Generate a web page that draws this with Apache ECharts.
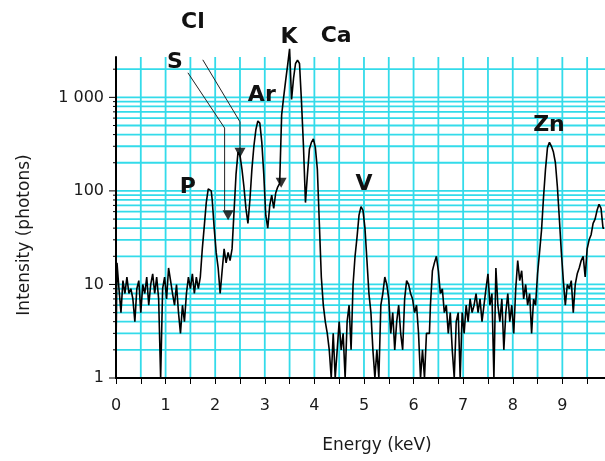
<!DOCTYPE html>
<html><head><meta charset="utf-8">
<script src="https://cdn.jsdelivr.net/npm/echarts@6/dist/echarts.min.js"></script>
<style>html,body{margin:0;padding:0;background:#fff}#c{width:605px;height:461px}</style>
</head><body><div id="c"></div>
<script>
// ---- data ----
const KEV_PER_CHANNEL = 0.04;
const counts = [
  2,17,9,5,11,8,12,8,9,7,
  4,9,11,5,10,8,12,6,10,13,
  8,12,7,1,9,12,7,15,11,8,
  6,10,5,3,6,4,8,12,9,13,
  8,12,9,12,24,42,75,105,100,80,
  40,22,15,8,14,24,17,22,18,24,
  60,150,260,240,170,110,65,45,80,170,
  300,450,560,530,330,150,55,40,70,90,
  65,95,110,120,650,1000,1500,2200,3300,950,
  1600,2300,2500,2300,900,300,75,150,280,330,
  360,290,170,45,12,6,4,3,2,1,
  3,1,2,4,2,3,1,4,6,2,
  10,20,32,55,68,62,40,18,8,5,
  2,1,2,1,6,8,12,10,7,3,
  5,2,4,6,3,2,7,11,10,8,
  7,5,6,3,1,2,1,3,3,6,
  14,17,20,14,8,9,5,6,3,5,
  2,1,4,5,1,5,3,6,4,7,
  5,6,8,5,7,4,6,9,13,6,
  8,1,15,6,4,7,2,5,8,4,
  6,3,9,18,11,14,7,10,6,8,
  3,7,6,13,22,38,85,170,290,330,
  300,260,200,110,50,22,11,6,10,9,
  11,5,10,13,15,18,20,12,24,30,
  34,45,50,62,72,65,40
];
const channelEnergy = counts.map((_, i) => +(i * KEV_PER_CHANNEL).toFixed(2));

const xMin = 0, xMax = 9.86, xStep = 0.5;
const yMin = 1, yMax = 2700;
const xGridValues = [0.5,1,1.5,2,2.5,3,3.5,4,4.5,5,5.5,6,6.5,7,7.5,8,8.5,9,9.5];
const yMajorValues = [1, 10, 100, 1000];
const yTickLabels = ['1', '10', '100', '1 000'];
const yMinorValues = [2,3,4,5,6,7,8,9,20,30,40,50,60,70,80,90,200,300,400,500,600,700,800,900,2000];

const peakLabels = ['P', 'S', 'Cl', 'Ar', 'K', 'Ca', 'V', 'Zn'];
const labelEnergy = [1.45, 1.19, 1.55, 2.94, 3.49, 4.44, 5.00, 8.73];
const labelCounts = [110, 2400, 6270, 1063, 4440, 4550, 119, 508];

const markerEnergy = [2.26, 2.50, 3.33];
const markerCounts = [55, 255, 122];

const pointerS = [[1.45, 1830], [2.19, 470], [2.19, 62]];
const pointerCl = [[1.75, 2520], [2.50, 547], [2.50, 285]];

// ---- chart ----
const GRID_COLOR = '#33dbea';
const chart = echarts.init(document.getElementById('c'), null, {renderer: 'canvas'});

const gridLineSeries = (vals, vertical) => ({
  type: 'custom', silent: true, z: 1, clip: false,
  data: vals.map(v => vertical ? [v, yMin] : [xMin, v]),
  renderItem(params, api) {
    const children = [];
    if (vertical) {
      const x = api.value(0);
      const a = api.coord([x, yMin]), b = api.coord([x, yMax]);
      children.push({type: 'line', shape: {x1: a[0], y1: a[1], x2: b[0], y2: b[1]},
        style: {stroke: GRID_COLOR, lineWidth: 1.8}});
    } else {
      const v = api.value(1);
      const a = api.coord([xMin, v]), b = api.coord([xMax, v]);
      const major = yMajorValues.indexOf(v) >= 0;
      if (v !== yMin) children.push({type: 'line', shape: {x1: a[0] + 1, y1: a[1], x2: b[0], y2: b[1]},
        style: {stroke: GRID_COLOR, lineWidth: 1.8}});
      children.push({type: 'line', shape: {x1: a[0] - (major ? 7 : 3), y1: a[1], x2: a[0], y2: a[1]},
        style: {stroke: '#000', lineWidth: 1}});
    }
    return {type: 'group', children};
  }
});

const option = {
  animation: false,
  backgroundColor: '#fff',
  grid: {left: 116, right: 0, top: 57, bottom: 83, containLabel: false, outerBoundsMode: 'none'},
  xAxis: {
    type: 'value', min: xMin, max: xMax, interval: xStep, z: 5,
    axisLine: {lineStyle: {color: '#000', width: 2}},
    axisTick: {length: 6, lineStyle: {color: '#000', width: 1}},
    splitLine: {show: false},
    axisLabel: {
      margin: 20, color: '#1a1a1a', fontSize: 16, fontFamily: 'DejaVu Sans',
      formatter: v => (Math.abs(v - Math.round(v)) < 1e-6 && v <= 9.5) ? String(Math.round(v)) : ''
    }
  },
  yAxis: {
    type: 'log', logBase: 10, min: yMin, max: yMax, z: 5,
    axisLine: {show: true, lineStyle: {color: '#000', width: 2}},
    axisTick: {show: false},
    splitLine: {show: false},
    minorTick: {show: false}, minorSplitLine: {show: false},
    axisLabel: {
      margin: 12, color: '#1a1a1a', fontSize: 16, fontFamily: 'DejaVu Sans',
      formatter: v => {
        for (let i = 0; i < yMajorValues.length; i++) {
          if (Math.abs(v - yMajorValues[i]) < 1e-6 * yMajorValues[i]) return yTickLabels[i];
        }
        return '';
      }
    }
  },
  series: [
    gridLineSeries(xGridValues, true),
    gridLineSeries(yMajorValues.concat(yMinorValues), false),
    {
      type: 'line', name: 'spectrum', step: 'middle', showSymbol: false, symbol: 'none', clip: false, z: 3,
      lineStyle: {color: '#000', width: 1.6},
      data: channelEnergy.map((e, i) => [e, counts[i]])
    },
    {
      type: 'line', name: 'S pointer', symbol: 'none', z: 3, silent: true,
      lineStyle: {color: '#222', width: 1}, data: pointerS
    },
    {
      type: 'line', name: 'Cl pointer', symbol: 'none', z: 3, silent: true,
      lineStyle: {color: '#222', width: 1}, data: pointerCl
    },
    {
      type: 'scatter', name: 'markers', symbol: 'triangle', symbolRotate: 180, symbolSize: [11, 10], z: 4,
      itemStyle: {color: '#000'},
      data: markerEnergy.map((e, i) => [e, markerCounts[i]])
    }
  ]
};
chart.setOption(option);

const texts = peakLabels.map((t, i) => {
  const p = chart.convertToPixel({gridIndex: 0}, [labelEnergy[i], labelCounts[i]]);
  return {type: 'text', x: p[0], y: p[1], z: 10,
    style: {text: t, font: 'bold 22px "DejaVu Sans"', fill: '#111', textAlign: 'center', textVerticalAlign: 'middle'}};
});
texts.push({type: 'text', x: 377, y: 446, z: 10,
  style: {text: 'Energy (keV)', font: '17px "DejaVu Sans"', fill: '#1a1a1a', textAlign: 'center', textVerticalAlign: 'middle'}});
texts.push({type: 'text', x: 25, y: 235, rotation: Math.PI / 2, z: 10,
  style: {text: 'Intensity (photons)', font: '17px "DejaVu Sans"', fill: '#1a1a1a', textAlign: 'center', textVerticalAlign: 'middle'}});
chart.setOption({graphic: texts});
</script>
</body></html>
